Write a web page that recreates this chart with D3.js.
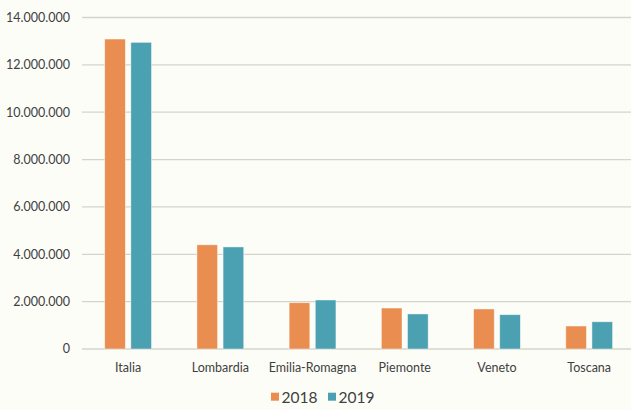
<!DOCTYPE html>
<html><head><meta charset="utf-8">
<script src="https://cdn.jsdelivr.net/npm/d3@7"></script>
<style>
html,body{margin:0;padding:0;background:#fdfdf8;}
svg{display:block;}
text{font-family:Lato,"Open Sans",sans-serif;fill:#404040;}
</style></head><body>
<svg id="c" width="631" height="410"></svg>
<script>
const categories = ["Italia","Lombardia","Emilia-Romagna","Piemonte","Veneto","Toscana"];
const series = ["2018","2019"];
const values2018 = [13090000, 4400000, 1955000, 1730000, 1690000, 970000];
const values2019 = [12950000, 4310000, 2070000, 1480000, 1450000, 1150000];
const yTicks = [0,2000000,4000000,6000000,8000000,10000000,12000000,14000000];
const colors = ["#ea8d50","#4ba1b1"];

(function(){
const svg = d3.select("#c");
const pL = 82, pR = 635.3, pT = 17.5, pB = 349;
const x0 = d3.scaleBand().domain(categories).range([pL,pR]).padding(0);
const bw = x0.bandwidth();
const x1 = d3.scaleBand().domain(series).range([bw/2-23.4, bw/2+23.4]).paddingInner(0.21);
const y = d3.scaleLinear().domain([0,14000000]).range([pB, pT]);
const fmt = v => d3.format(",")(v).replace(/,/g,".");

svg.append("g").selectAll("line").data(yTicks).join("line")
  .attr("x1", pL).attr("x2", 631)
  .attr("y1", d=>y(d)).attr("y2", d=>y(d))
  .attr("stroke","#d4d4cd").attr("stroke-width",1.3);

svg.append("g").selectAll("text").data(yTicks).join("text")
  .attr("x", 70).attr("y", d=>y(d)).attr("dy","0.35em")
  .attr("text-anchor","end").attr("font-size","12.5px")
  .text(d=>fmt(d));

const data = categories.map((c,i)=>({c, vals:[values2018[i], values2019[i]]}));
const g = svg.append("g").selectAll("g").data(data).join("g")
  .attr("transform", d=>`translate(${x0(d.c)},0)`);
g.selectAll("rect").data(d=>d.vals.map((v,j)=>({s:series[j], v, j}))).join("rect")
  .attr("x", d=>x1(d.s)).attr("width", x1.bandwidth())
  .attr("y", d=>y(d.v)).attr("height", d=>y(0)-y(d.v))
  .attr("fill", d=>colors[d.j])
  .attr("stroke", "#ffffff").attr("stroke-opacity",0.55).attr("stroke-width",0.8);

svg.append("g").selectAll("text").data(categories).join("text")
  .attr("x", d=>x0(d)+bw/2).attr("y", 368).attr("dy","0.35em")
  .attr("text-anchor","middle").attr("font-size","12.5px")
  .text(d=>d);

const leg = svg.append("g");
const legX = [271, 328];
series.forEach((s,i)=>{
  leg.append("rect").attr("x", legX[i]).attr("y", 392.7).attr("width", 8).attr("height", 8).attr("fill", colors[i]);
  leg.append("text").attr("x", legX[i]+10.5).attr("y", 397).attr("dy","0.36em")
    .attr("font-size","15.5px").text(s);
});
})();
</script>
</body></html>
